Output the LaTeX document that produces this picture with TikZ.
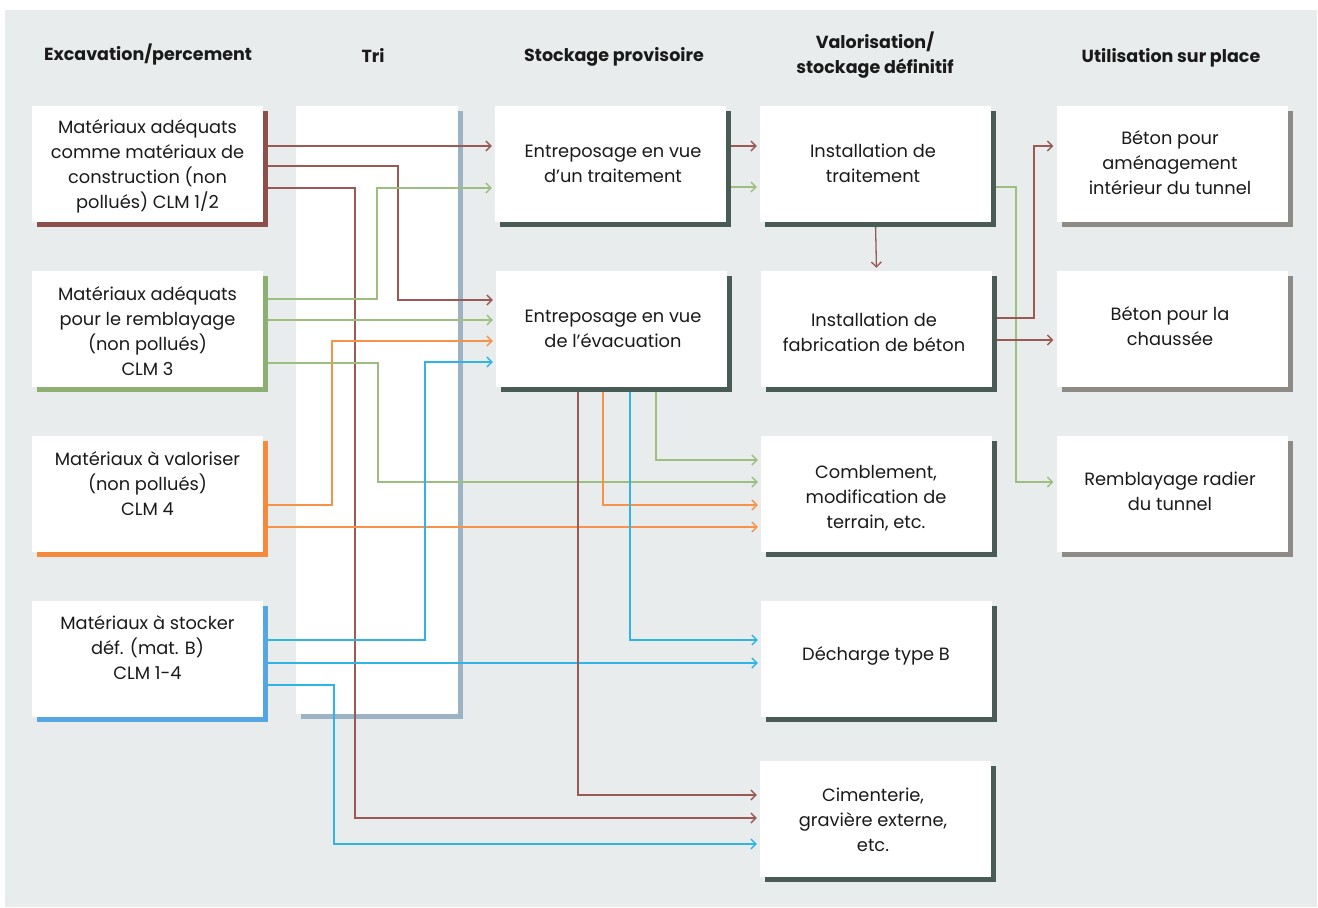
\documentclass[tikz,border=0pt]{standalone}
\usepackage{fontspec}
\setmainfont{Poppins}
\usetikzlibrary{arrows.meta,shadows}
\pgfdeclarelayer{bg}
\pgfdeclarelayer{lines}
\pgfsetlayers{bg,lines,main}
\definecolor{bgc}{HTML}{E8ECED}
\definecolor{ink}{HTML}{1A1A1A}
\definecolor{sBr}{HTML}{8C4F49}
\definecolor{sGr}{HTML}{8FAF72}
\definecolor{sOr}{HTML}{F58A3C}
\definecolor{sBl}{HTML}{56A6E3}
\definecolor{sTri}{HTML}{9CB2C5}
\definecolor{sDk}{HTML}{485B55}
\definecolor{sGy}{HTML}{8E8B87}
\definecolor{lBr}{HTML}{9A5A53}
\definecolor{lGr}{HTML}{9CBF80}
\definecolor{lOr}{HTML}{F7924A}
\definecolor{lBl}{HTML}{2EB4E6}
\tikzset{
  box/.style={rectangle, fill=white, inner sep=0pt, minimum width=231pt, minimum height=116pt},
  sh/.style={drop shadow={shadow xshift=5pt,shadow yshift=-5pt,fill=#1,opacity=1}},
  txt/.style={align=center, font=\fontsize{17.8}{25}\selectfont, text=ink, inner sep=0pt},
  hdr/.style={align=center, font=\fontsize{17.5}{25}\selectfont\bfseries, text=ink, inner sep=0pt},
  conn/.style={line width=1.3pt, -{Straight Barb[length=5pt,width=10pt]}, shorten >=3pt},
}
\begin{document}
\begin{tikzpicture}[x=1pt,y=-1pt]
\useasboundingbox (0,0) rectangle (1318,908);
\begin{pgfonlayer}{bg}
\fill[bgc] (5,10) rectangle (1317,907);
\node[box, sh=sTri, minimum width=162pt, minimum height=608pt] (tri) at (377,410) {};
\end{pgfonlayer}

% headers
\node[hdr] (h1) at (148,55) {Excavation/percement};
\node[hdr] (h2) at (373,55) {Tri};
\node[hdr] (h3) at (614,57) {Stockage provisoire};
\node[hdr] (h4) at (875,55.5) {Valorisation/\\stockage définitif};
\node[hdr] (h5) at (1171,58) {Utilisation sur place};

% column 1
\node[box, sh=sBr] (b1) at (147.5,164) {};
\node[box, sh=sGr] (b2) at (147.5,329) {};
\node[box, sh=sOr] (b3) at (147.5,494) {};
\node[box, sh=sBl] (b4) at (147.5,659) {};
\node[txt] (t1) at (147.5,166) {Matériaux adéquats\\comme matériaux de\\construction (non\\pollués) CLM 1/2};
\node[txt] (t2) at (147.5,331.5) {Matériaux adéquats\\pour le remblayage\\(non pollués)\\CLM 3};
\node[txt] (t3) at (147.5,484) {Matériaux à valoriser\\(non pollués)\\CLM 4};
\node[txt] (t4) at (147.5,648) {Matériaux à stocker\\déf. (mat. B)\\CLM 1-4};

% column 3
\node[box, sh=sDk] (bA) at (610.5,164) {};
\node[box, sh=sDk] (bB) at (611.5,329) {};
\node[txt] (tA) at (613,164) {Entreposage en vue\\d’un traitement};
\node[txt] (tB) at (613,329) {Entreposage en vue\\de l’évacuation};

% column 4
\node[box, sh=sDk] (bC) at (875.5,164) {};
\node[box, sh=sDk] (bD) at (876.5,329) {};
\node[box, sh=sDk] (bE) at (876.5,494) {};
\node[box, sh=sDk] (bF) at (876.5,659) {};
\node[box, sh=sDk] (bG) at (875.5,818.5) {};
\node[txt] (tC) at (873,163.5) {Installation de\\traitement};
\node[txt] (tD) at (874,332) {Installation de\\fabrication de béton};
\node[txt] (tE) at (876,498) {Comblement,\\modification de\\terrain, etc.};
\node[txt] (tF) at (876,656) {Décharge type B};
\node[txt] (tG) at (873,820) {Cimenterie,\\gravière externe,\\etc.};

% column 5
\node[box, sh=sGy] (bH) at (1172,164) {};
\node[box, sh=sGy] (bI) at (1172,329) {};
\node[box, sh=sGy] (bJ) at (1172,494) {};
\node[txt] (tH) at (1170,163) {Béton pour\\aménagement\\intérieur du tunnel};
\node[txt] (tI) at (1170,326) {Béton pour la\\chaussée};
\node[txt] (tJ) at (1170,491.5) {Remblayage radier\\du tunnel};

\begin{pgfonlayer}{lines}
% from b1
\draw[conn, lBr] (b1.east |- 0,146) -- (bA.west |- 0,146);
\draw[conn, lBr] (b1.east |- 0,166) -| (398,300) -- (bB.west |- 0,300);
\draw[conn, lBr] (b1.east |- 0,188) -| (355,818) -- (bG.west |- 0,818);
% from b2
\draw[conn, lGr] (b2.east |- 0,299) -| (377,188) -- (bA.west |- 0,188);
\draw[conn, lGr] (b2.east |- 0,320) -- (bB.west |- 0,320);
\draw[conn, lGr] (b2.east |- 0,363) -| (378,482) -- (bE.west |- 0,482);
% from b3
\draw[conn, lOr] (b3.east |- 0,505) -| (332,341) -- (bB.west |- 0,341);
\draw[conn, lOr] (b3.east |- 0,527) -- (bE.west |- 0,527);
% from b4
\draw[conn, lBl] (b4.east |- 0,640) -| (425,362) -- (bB.west |- 0,362);
\draw[conn, lBl] (b4.east |- 0,663) -- (bF.west |- 0,663);
\draw[conn, lBl] (b4.east |- 0,685) -| (334,844) -- (bG.west |- 0,844);
% from bB
\draw[conn, lBr] (bB.south -| 578,0) |- (bG.west |- 0,795);
\draw[conn, lOr] (bB.south -| 603,0) |- (bE.west |- 0,505);
\draw[conn, lBl] (bB.south -| 630,0) |- (bF.west |- 0,640);
\draw[conn, lGr] (bB.south -| 656,0) |- (bE.west |- 0,460);
% from bA
\draw[conn, lBr] (bA.east |- 0,146) -- (bC.west |- 0,146);
\draw[conn, lGr] (bA.east |- 0,187) -- (bC.west |- 0,187);
% from bC
\draw[conn, lBr] (bC.south) -- (bD.north);
\draw[conn, lGr] (bC.east |- 0,187) -| (1016,482) -- (bJ.west |- 0,482);
% from bD
\draw[conn, lBr] (bD.east |- 0,318) -| (1034,146) -- (bH.west |- 0,146);
\draw[conn, lBr] (bD.east |- 0,340) -- (bI.west |- 0,340);
\end{pgfonlayer}
\end{tikzpicture}
\end{document}
